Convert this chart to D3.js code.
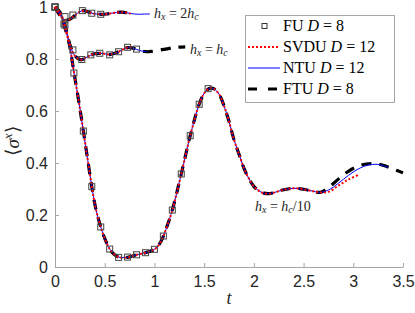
<!DOCTYPE html>
<html><head><meta charset="utf-8">
<script src="https://cdn.jsdelivr.net/npm/d3@7"></script>
<style>body{margin:0;background:#fff}svg{display:block}
text{white-space:pre}</style>
</head><body><svg id="c" width="415" height="313"></svg>
<script>
// ---- data ----
const xTicks = [0, 0.5, 1, 1.5, 2, 2.5, 3, 3.5];
const yTicks = [0, 0.2, 0.4, 0.6, 0.8, 1];
const seriesNames = ["FU", "SVDU", "NTU", "FTU"];
const seriesD = [8, 12, 12, 8];

// h_x = h_c/10 : common part
const tA = [0,0.05,0.1,0.15,0.19,0.24,0.285,0.33,0.37,0.41,0.46,0.5,0.55,0.6,0.64,0.7,0.75,0.82,0.91,1.0,1.05,1.09,1.13,1.18,1.27,1.36,1.45,1.5,1.54,1.57,1.6,1.65,1.7,1.75,1.8,1.86,1.9,1.95,2.0,2.05,2.1,2.15,2.2,2.3,2.4,2.5,2.6,2.67];
const yA = [1,0.98,0.93,0.845,0.75,0.635,0.523,0.41,0.309,0.225,0.154,0.11,0.069,0.047,0.038,0.036,0.039,0.047,0.055,0.068,0.088,0.119,0.16,0.219,0.358,0.505,0.626,0.668,0.684,0.688,0.685,0.665,0.62,0.56,0.49,0.424,0.38,0.34,0.31,0.293,0.284,0.282,0.286,0.297,0.303,0.299,0.291,0.287];
// tails
const tA_ntu = [2.75,2.85,2.95,3.05,3.15,3.24,3.3,3.35];
const yA_ntu = [0.296,0.322,0.352,0.377,0.392,0.395,0.39,0.383];
const tA_ftu = [2.75,2.85,2.95,3.05,3.15,3.24,3.3,3.4,3.5];
const yA_ftu = [0.305,0.338,0.368,0.388,0.397,0.397,0.391,0.377,0.362];
const tA_svdu = [2.75,2.85,2.95,3.05];
const yA_svdu = [0.289,0.313,0.336,0.354];
const tA_fu = [0,0.1,0.19,0.285,0.37,0.46,0.55,0.64,0.73,0.82,0.91,1.0,1.09,1.18,1.27,1.36,1.45,1.54];
const yA_fu = [1,0.93,0.746,0.523,0.309,0.154,0.069,0.037,0.038,0.047,0.055,0.068,0.119,0.219,0.358,0.505,0.626,0.686];

// h_x = h_c
const tB = [0,0.05,0.1,0.15,0.2,0.25,0.27,0.3,0.36,0.4,0.45,0.5,0.55,0.6,0.64,0.7,0.73,0.77,0.82,0.87,0.92];
const yB = [1,0.975,0.92,0.855,0.812,0.798,0.797,0.803,0.815,0.82,0.822,0.82,0.817,0.822,0.828,0.84,0.844,0.843,0.837,0.831,0.828];
const tB_ftu = [0.97,1.05,1.15,1.22,1.31];
const yB_ftu = [0.829,0.834,0.841,0.845,0.847];
const tB_fu = [0,0.09,0.18,0.27,0.36,0.45,0.55,0.64,0.73,0.82];
const yB_fu = [1,0.935,0.835,0.798,0.816,0.822,0.816,0.828,0.845,0.838];

// h_x = 2h_c
const tC = [0,0.05,0.1,0.15,0.2,0.25,0.29,0.33,0.37,0.42,0.47,0.52,0.57,0.62,0.67,0.72,0.76,0.8,0.85,0.9,0.955];
const yC = [1,0.968,0.951,0.953,0.968,0.982,0.986,0.982,0.976,0.973,0.972,0.973,0.976,0.979,0.98,0.978,0.975,0.973,0.972,0.973,0.973];
const tC_fu = [0,0.1,0.18,0.275,0.37,0.46];
const yC_fu = [1,0.963,0.969,0.986,0.976,0.972];

// ---- chart ----
const svg = d3.select("#c");
const W = 415, H = 313;
const m = {l:55, r:12, t:7, b:46};
const x = d3.scaleLinear().domain([0,3.5]).range([m.l, W-m.r]);
const y = d3.scaleLinear().domain([0,1]).range([H-m.b, m.t]);

const zip = (ts, ys) => ts.map((t,i)=>[t, ys[i]]);
const line = d3.line().x(d=>x(d[0])).y(d=>y(d[1])).curve(d3.curveCatmullRom.alpha(0.5));

const A = zip(tA, yA), B = zip(tB, yB), C = zip(tC, yC);
const upto = (arr, tmax) => arr.filter(d=>d[0] <= tmax + 1e-9);

const ftu = [A.concat(zip(tA_ftu, yA_ftu)), B.concat(zip(tB_ftu, yB_ftu)), upto(C, 0.76)];
const ntu = [A.concat(zip(tA_ntu, yA_ntu)), B, C];
const svdu = [A.concat(zip(tA_svdu, yA_svdu)), upto(B, 0.77), upto(C, 0.76)];
const fu = [zip(tA_fu, yA_fu), zip(tB_fu, yB_fu), zip(tC_fu, yC_fu)];

const styles = {
  FTU: {stroke:"#000", w:3.2, dash:"10,8"},
  NTU: {stroke:"#0000ff", w:1, dash:null},
  SVDU:{stroke:"#ff0000", w:2, dash:"2,2"}
};

const SERIF = "Liberation Serif";
const SANS = "Liberation Sans";

// axes
const axisColor = "#a6a6a6", textColor = "#262626";
const gx = svg.append("g").attr("transform",`translate(0,${H-m.b})`)
  .call(d3.axisBottom(x).tickValues(xTicks).tickSizeInner(-4).tickSizeOuter(0).tickPadding(9).tickFormat(d3.format("")));
const gy = svg.append("g").attr("transform",`translate(${m.l},0)`)
  .call(d3.axisLeft(y).tickValues(yTicks).tickSizeInner(-4).tickSizeOuter(0).tickPadding(7).tickFormat(d3.format("")));
[gx, gy].forEach(g=>{
  g.attr("font-family", SANS).attr("font-size", 16);
  g.select(".domain").attr("stroke", axisColor);
  g.selectAll(".tick line").attr("stroke", axisColor);
  g.selectAll("text").attr("fill", textColor);
});

// lines
function drawLines(sets, st){
  svg.append("g").selectAll("path").data(sets).join("path")
    .attr("d", line).attr("fill","none").attr("stroke", st.stroke)
    .attr("stroke-width", st.w).attr("stroke-dasharray", st.dash);
}
drawLines(ftu, styles.FTU);
drawLines(ntu, styles.NTU);
drawLines(svdu, styles.SVDU);

// markers
svg.append("g").selectAll("rect").data(fu.flat()).join("rect")
  .attr("x", d=>x(d[0])-3).attr("y", d=>y(d[1])-3).attr("width",6).attr("height",6)
  .attr("fill","none").attr("stroke","#444").attr("stroke-width",1);

// labels
svg.append("text").attr("font-family", SERIF).attr("x", x(1.75)).attr("y", 304).attr("text-anchor","middle")
  .attr("font-style","italic").attr("font-size",18).attr("fill", textColor).text("t");
const yl = svg.append("text").attr("font-family", SERIF).attr("transform","translate(19,141) rotate(-90)").attr("text-anchor","middle")
  .attr("font-size",19).attr("fill", textColor);
yl.append("tspan").text("⟨");
yl.append("tspan").attr("font-style","italic").text("σ");
yl.append("tspan").attr("font-style","italic").attr("font-size",13).attr("dy",-7).text("x");
yl.append("tspan").attr("dy",7).text("⟩");

function annot(px, py, rhs){
  const t = svg.append("text").attr("font-family", SERIF).attr("x", px).attr("y", py)
    .attr("font-size",14).attr("fill", textColor);
  t.append("tspan").attr("font-style","italic").text("h");
  t.append("tspan").attr("font-style","italic").attr("font-size",10).attr("dy",2).text("x");
  t.append("tspan").attr("dy",-2).text(" = " + rhs[0]);
  t.append("tspan").attr("font-style","italic").text("h");
  t.append("tspan").attr("font-style","italic").attr("font-size",10).attr("dy",2).text("c");
  if (rhs[1]) t.append("tspan").attr("dy",-2).text(rhs[1]);
}
annot(154, 18, ["2", ""]);
annot(190, 54, ["", ""]);
annot(255, 211, ["", "/10"]);

// legend
const lg = svg.append("g");
lg.append("rect").attr("x",245.5).attr("y",15.5).attr("width",149).attr("height",87)
  .attr("fill","#fff").attr("stroke", axisColor).attr("stroke-width",1);
const rows = [26, 47, 68, 89];
seriesNames.forEach((n,i)=>{
  const cy = rows[i];
  if (n === "FU") {
    lg.append("rect").attr("x",262).attr("y",cy-2.5).attr("width",5).attr("height",5)
      .attr("fill","none").attr("stroke","#333");
  } else {
    const st = styles[n];
    lg.append("line").attr("x1",248).attr("x2",280).attr("y1",cy).attr("y2",cy)
      .attr("stroke", st.stroke).attr("stroke-width", st.w).attr("stroke-dasharray", n==="FTU" ? "9,11" : st.dash);
  }
  const t = lg.append("text").attr("font-family", SERIF).attr("x",283).attr("y",cy+5)
    .attr("font-size",16).attr("fill", "#000");
  t.append("tspan").text(n + " ");
  t.append("tspan").attr("font-style","italic").text("D");
  t.append("tspan").text(" = " + seriesD[i]);
});
</script></body></html>
